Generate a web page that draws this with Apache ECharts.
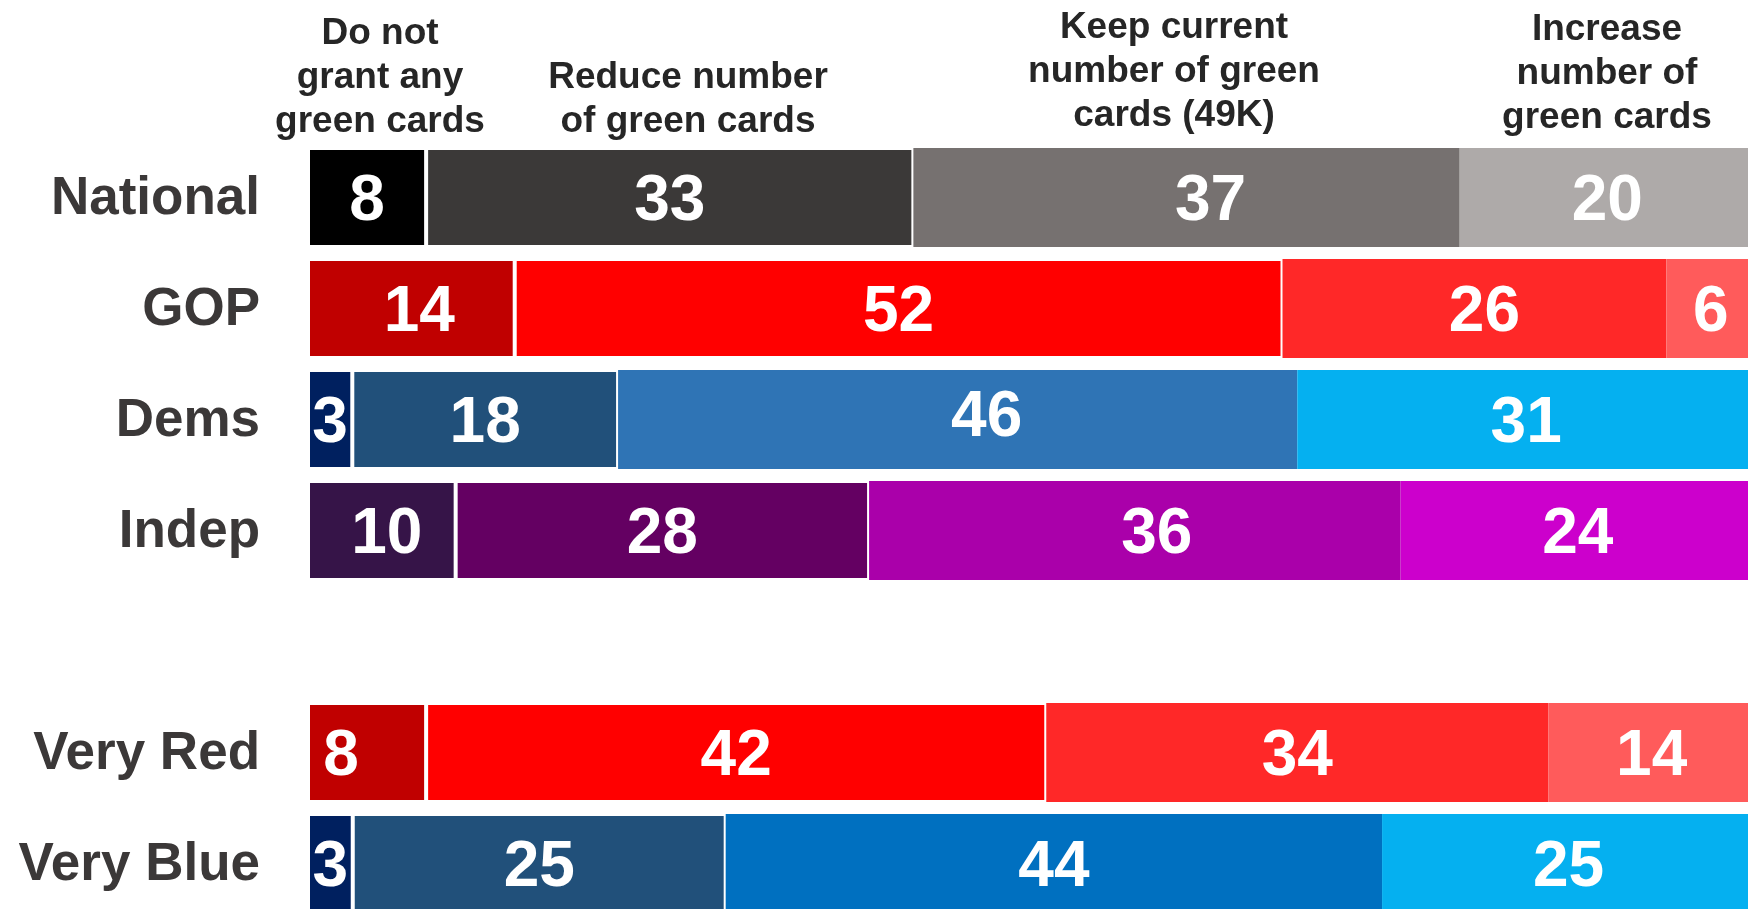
<!DOCTYPE html>
<html>
<head>
<meta charset="utf-8">
<script src="https://cdn.jsdelivr.net/npm/echarts@6/dist/echarts.min.js"></script>
<style>
  html, body { margin: 0; padding: 0; background: #ffffff; }
  #chart { width: 1748px; height: 909px; }
</style>
</head>
<body>
<div id="chart"></div>
<script>
// ---- Data ----
const categories = ['National', 'GOP', 'Dems', 'Indep', '', 'Very Red', 'Very Blue'];
const doNotGrant = [8, 14, 3, 10, null, 8, 3];
const reduceNumber = [33, 52, 18, 28, null, 42, 25];
const keepCurrent = [37, 26, 46, 36, null, 34, 44];
const increaseNumber = [20, 6, 31, 24, null, 14, 25];
const seriesNames = ['Do not grant any green cards', 'Reduce number of green cards', 'Keep current number of green cards (49K)', 'Increase number of green cards'];
const headerLines = [
  'Do not\ngrant any\ngreen cards',
  'Reduce number\nof green cards',
  'Keep current\nnumber of green\ncards (49K)',
  'Increase\nnumber of\ngreen cards'
];

// ---- Styling ----
const rowColors = [
  ['#000000', '#3b3938', '#767170', '#aeaaa9'],
  ['#c00000', '#ff0000', '#ff2828', '#ff5b5b'],
  ['#00205f', '#21507a', '#2f74b5', '#05b0f0'],
  ['#361448', '#640062', '#aa00aa', '#cc00cc'],
  ['#ffffff', '#ffffff', '#ffffff', '#ffffff'],
  ['#c00000', '#ff0000', '#ff2828', '#ff5b5b'],
  ['#00205f', '#21507a', '#0070c0', '#05b0f0']
];
const headerPos = [
  { x: 380, y: 12 },
  { x: 688, y: 56 },
  { x: 1174, y: 6 },
  { x: 1607, y: 8 }
];
const labelBaseOffset = [0, 5];
// label nudges, keyed "seriesIndex-rowIndex"
const labelTweaks = {
  '2-0': [24, 5],
  '0-1': [8, 5],
  '2-1': [10, 5],
  '2-2': [29, -1],
  '0-3': [5, 5],
  '2-3': [22, 5],
  '0-5': [-26, 5]
};

const allValues = [doNotGrant, reduceNumber, keepCurrent, increaseNumber];
// each row is drawn as a share of its own total (100% stacked)
const rowTotals = categories.map((c, ri) => allValues.reduce((s, arr) => s + (arr[ri] || 0), 0));

const series = allValues.map((vals, si) => ({
  name: seriesNames[si],
  type: 'bar',
  stack: 'total',
  barWidth: 99,
  data: vals.map((v, ri) => {
    const item = {
      value: v == null ? null : (v / rowTotals[ri]) * 100,
      raw: v,
      itemStyle: { color: rowColors[ri][si] }
    };
    const tw = labelTweaks[si + '-' + ri];
    if (tw) item.label = { offset: tw };
    return item;
  }),
  itemStyle: {
    borderColor: '#ffffff',
    borderWidth: si < 2 ? 2 : 0
  },
  label: {
    show: true,
    position: 'inside',
    offset: labelBaseOffset,
    color: '#ffffff',
    fontFamily: 'Liberation Sans, Arial, sans-serif',
    fontWeight: 'bold',
    fontSize: 64,
    formatter: p => (p.data.raw == null ? '' : String(p.data.raw))
  },
  emphasis: { disabled: true }
}));

const catFont = {
  color: '#3b3838',
  fontFamily: 'Liberation Sans, Arial, sans-serif',
  fontWeight: 'bold',
  fontSize: 53
};

const chart = echarts.init(document.getElementById('chart'), null, { renderer: 'canvas' });
chart.setOption({
  backgroundColor: '#ffffff',
  animation: false,
  grid: { left: 308, top: 142, width: 1447, height: 777, containLabel: false, outerBoundsMode: 'none' },
  xAxis: {
    type: 'value',
    min: 0,
    max: 100,
    show: false
  },
  yAxis: {
    type: 'category',
    data: categories,
    inverse: true,
    axisLine: { show: false },
    axisTick: { show: false },
    splitLine: { show: false },
    axisLabel: Object.assign({
      margin: 48,
      formatter: v => (v ? '{c|' + v + '}' : ''),
      rich: { c: Object.assign({ padding: [4, 0, 0, 0] }, catFont) }
    }, catFont)
  },
  graphic: headerLines.map((t, i) => ({
    type: 'text',
    x: headerPos[i].x,
    y: headerPos[i].y,
    silent: true,
    style: {
      text: t,
      fill: '#262626',
      font: 'bold 37px "Liberation Sans", Arial, sans-serif',
      align: 'center',
      verticalAlign: 'top',
      lineHeight: 44
    }
  })),
  series: series
});
</script>
</body>
</html>
